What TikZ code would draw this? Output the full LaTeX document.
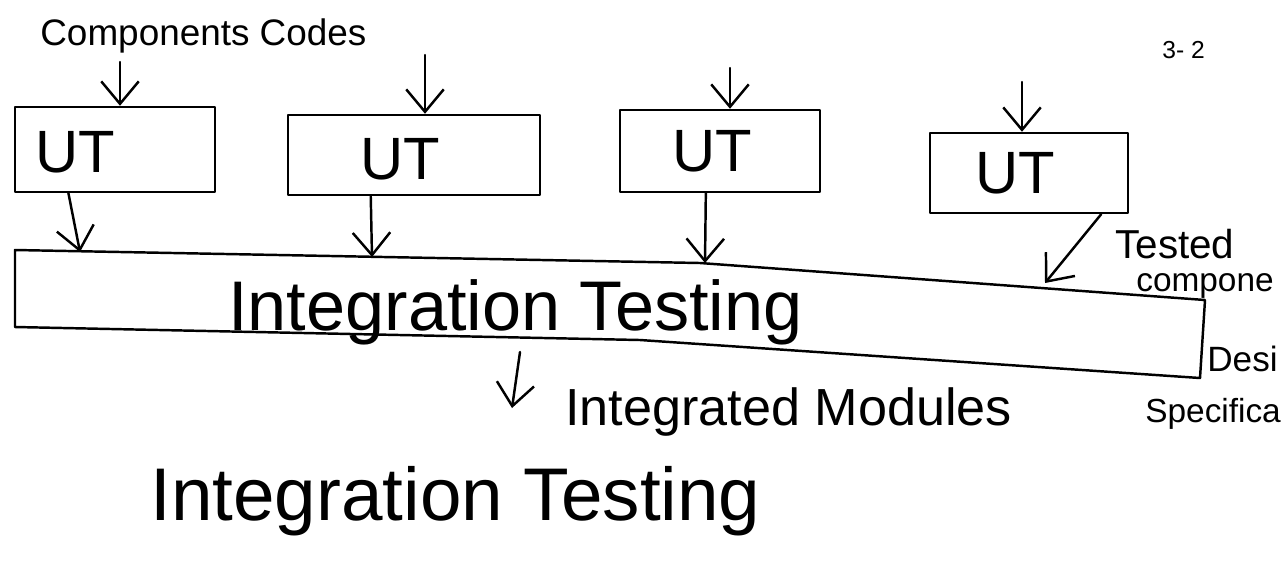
\documentclass[tikz,border=0pt]{standalone}
\usepackage{fontspec}
\setmainfont{Liberation Sans}
\usetikzlibrary{arrows.meta,fit,calc}

\begin{document}
\begin{tikzpicture}[x=0.02cm,y=-0.02cm,
  ink/.style={line width=1.4pt, line cap=round, line join=round},
  utbox/.style={ink, draw, inner sep=0pt},
  utlabel/.style={inner sep=0pt, font=\fontsize{34}{38}\selectfont},
  feed/.style={ink, -{Straight Barb[length=4.5mm,width=7.5mm]}},
  note/.style={inner sep=0pt, anchor=base west}
]
\useasboundingbox (0,0) rectangle (1281,566);
\clip (0,0) rectangle (1281,566);

% header labels
\node[note, font=\fontsize{21}{24}\selectfont] (codes) at (40,45) {Components Codes};
\node[note, font=\fontsize{14}{16}\selectfont] (page) at (1162,58) {3- 2};

% unit-test boxes
\node[utbox, fit={(15,107) (215,192)}, label={[utlabel, xshift=-0.8cm, yshift=-0.05cm]center:UT}] (u1) {};
\node[utbox, fit={(288,115) (540,195)}, label={[utlabel, xshift=-0.28cm, yshift=-0.08cm]center:UT}] (u2) {};
\node[utbox, fit={(620,110) (820,192)}, label={[utlabel, xshift=-0.16cm]center:UT}] (u3) {};
\node[utbox, fit={(930,133) (1128,213)}, label={[utlabel, xshift=-0.28cm]center:UT}] (u4) {};

% component code inputs
\coordinate (c1) at (120,62);
\coordinate (c2) at (425,55);
\coordinate (c3) at (730,68);
\coordinate (c4) at (1022,82);
\draw[feed] (c1) -- (c1 |- u1.north);
\draw[feed] (c2) -- (c2 |- u2.north);
\draw[feed] (c3) -- (c3 |- u3.north);
\draw[feed] (c4) -- (c4 |- u4.north);

% integration testing bar
\coordinate (b1) at (15,250);
\coordinate (b2) at (700,263);
\coordinate (b3) at (1205,300);
\coordinate (b4) at (1200,378);
\coordinate (b5) at (640,340);
\coordinate (b6) at (15,327);
\draw[ink] (b1) -- (b2) -- (b3) -- (b4) -- (b5) -- (b6) -- cycle;
\node[note, font=\fontsize{40}{44}\selectfont] (itest) at (228,330) {Integration Testing};

% tested components entering the bar
\coordinate (t1) at (80,252);
\coordinate (t2) at (372,257);
\coordinate (t3) at (705,263);
\coordinate (t4) at (1045,283);
\draw[feed] ($(u1.south west)!0.27!(u1.south east)$) -- (t1);
\draw[feed] ($(u2.south west)!0.33!(u2.south east)$) -- (t2);
\draw[feed] ($(u3.south west)!0.43!(u3.south east)$) -- (t3);
\draw[feed] ($(u4.south west)!0.86!(u4.south east)$) -- (t4);

% side notes
\node[note, font=\fontsize{23}{26}\selectfont] (tested) at (1115,258) {Tested};
\node[note, font=\fontsize{19}{21}\selectfont] (comp) at (1136,291) {compone};
\node[note, font=\fontsize{20}{22}\selectfont] (design) at (1207,371) {Desi};
\node[note, font=\fontsize{19}{21}\selectfont] (spec) at (1145,422) {Specifica};

% output of the bar
\coordinate (o1) at (520,352);
\coordinate (o2) at (512,408);
\draw[feed] (o1) -- (o2);
\node[note, font=\fontsize{29.7}{32}\selectfont] (mods) at (565,425) {Integrated Modules};

% title
\node[note, font=\fontsize{42.5}{46}\selectfont] (title) at (150,520) {Integration Testing};
\end{tikzpicture}
\end{document}
